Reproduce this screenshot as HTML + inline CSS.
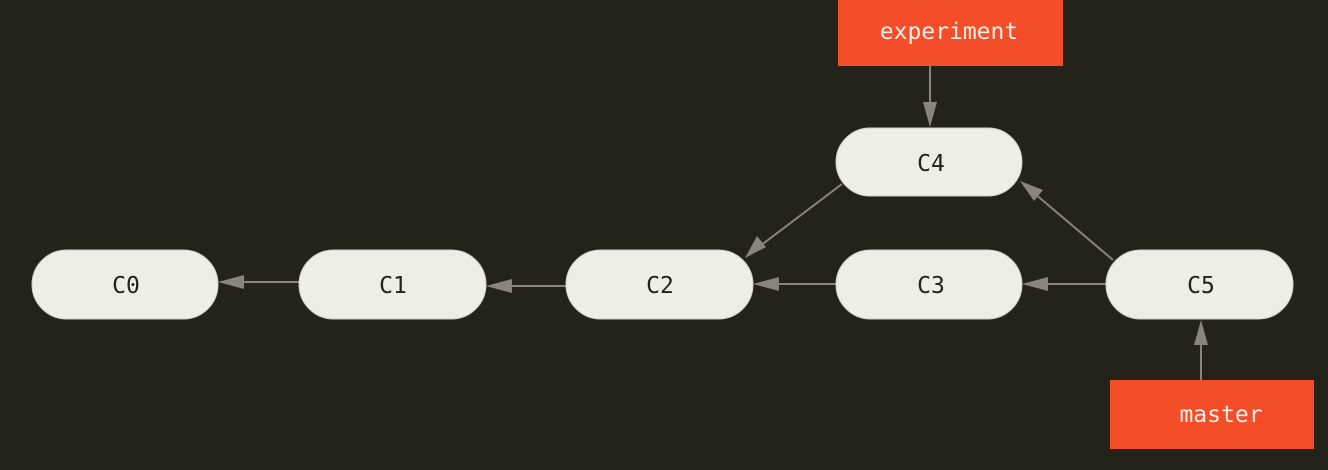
<!DOCTYPE html>
<html><head><style>
html,body{margin:0;padding:0;background:#232319;}
svg{display:block}
text{font-family:"DejaVu Sans Mono","Liberation Mono",monospace;font-size:23px;}
</style></head><body>
<svg width="1328" height="470" viewBox="0 0 1328 470">
<rect width="1328" height="470" fill="#232319"/>
<g stroke="#8a857c" stroke-width="2" fill="none">
<line x1="299" y1="282" x2="236" y2="282"/>
<line x1="566" y1="286" x2="503" y2="286"/>
<line x1="836" y1="284" x2="772" y2="284"/>
<line x1="1106" y1="284" x2="1042" y2="284"/>
<line x1="842" y1="184" x2="760" y2="246"/>
<line x1="1113" y1="260" x2="1034" y2="193"/>
<line x1="930" y1="66" x2="930" y2="108"/>
<line x1="1201" y1="380" x2="1201" y2="338"/>
</g>
<g fill="#8a857c">
<polygon points="218,282 244,275 244,289"/>
<polygon points="486,286 512,279 512,293"/>
<polygon points="753,284 779,277 779,291"/>
<polygon points="1022,284 1048,277 1048,291"/>
<polygon points="745,258 757,236 766,247"/>
<polygon points="1020,181 1043,190 1034,201"/>
<polygon points="930,127 923,102 937,102"/>
<polygon points="1201,320 1194,345 1208,345"/>
</g>
<g fill="#eeeee7" stroke="#cfcfc8" stroke-width="1">
<rect x="32" y="250" width="186" height="69" rx="34.5"/>
<rect x="299" y="250" width="187" height="69" rx="34.5"/>
<rect x="566" y="250" width="187" height="69" rx="34.5"/>
<rect x="836" y="250" width="186" height="69" rx="34.5"/>
<rect x="836" y="128" width="186" height="68" rx="34"/>
<rect x="1106" y="250" width="187" height="69" rx="34.5"/>
</g>
<g fill="#23231a" text-anchor="middle">
<text x="126" y="293">C0</text>
<text x="393" y="293">C1</text>
<text x="660" y="293">C2</text>
<text x="931" y="293">C3</text>
<text x="931" y="171">C4</text>
<text x="1201" y="293">C5</text>
</g>
<rect x="838" y="0" width="225" height="66" fill="#f34e29"/>
<rect x="1110" y="380" width="204" height="69" fill="#f34e29"/>
<g fill="#f3eee6" text-anchor="middle">
<text x="949" y="39">experiment</text>
<text x="1221" y="422">master</text>
</g>
</svg>
</body></html>
